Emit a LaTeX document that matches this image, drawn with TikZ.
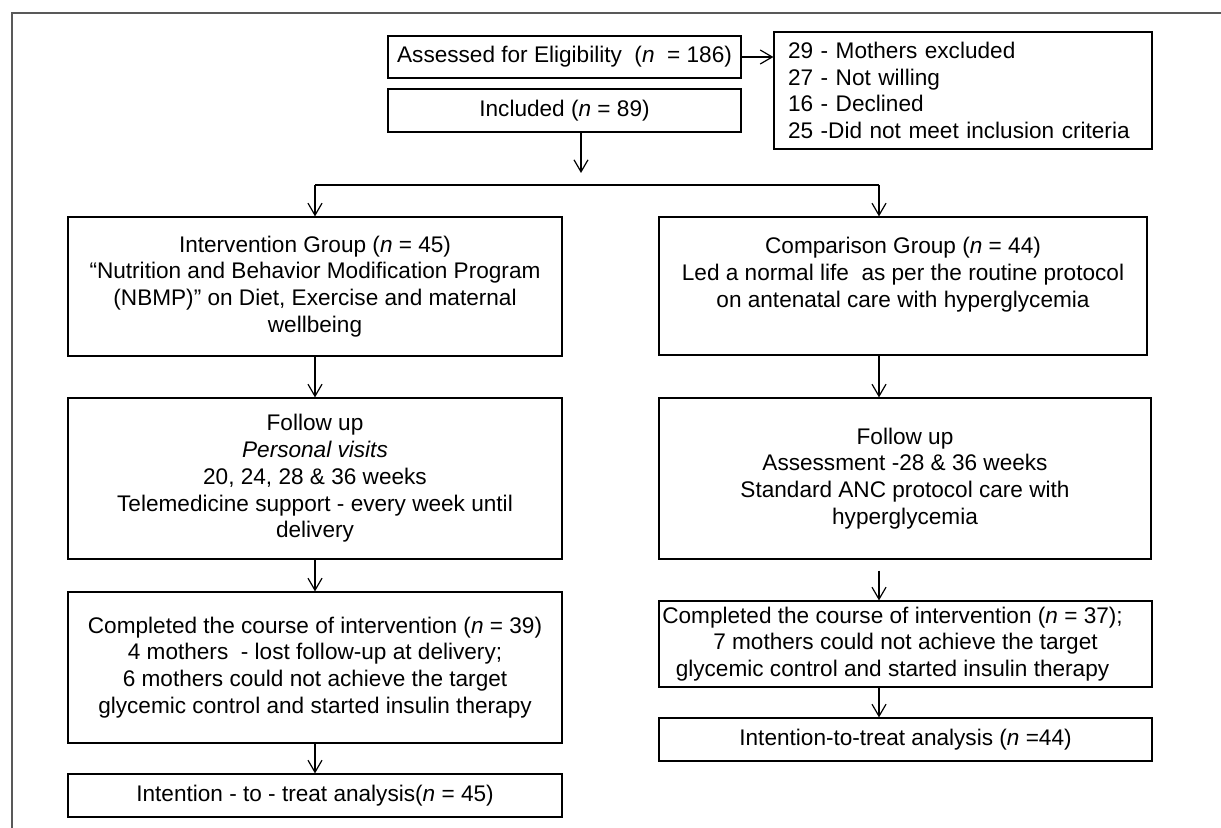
\documentclass[tikz,border=0pt]{standalone}
\usepackage{fontspec}
\setmainfont{Liberation Sans}
\usetikzlibrary{
    positioning,   % Relative positioning
    arrows.meta    % Modern arrow tips
}

\tikzset{
    box/.style={draw, line width=0.6pt, align=center, inner sep=0pt,
        font=\fontsize{11.3}{13.4}\selectfont},
    arr/.style={line width=0.6pt, -{Straight Barb[length=6pt,width=7pt]}},
    frame/.style={draw=black!65, line width=1pt}
}

\begin{document}
\begin{tikzpicture}[x=0.5pt, y=-0.5pt]
    \useasboundingbox (0,0) rectangle (1221,828);
    \draw[frame] (1221,13) -- (12,13) -- (12,828);

    % Enrolment
    \node[box, minimum width=176.5pt, minimum height=21pt] (assess) at (564.5,57)
        {Assessed for Eligibility\ \ (\textit{n}\ \ = 186)};
    \node[box, minimum width=176.5pt, minimum height=21.5pt] (incl) at (564.5,110.5)
        {Included (\textit{n} = 89)};
    \node[box, align=left, inner xsep=7pt, text width=175pt, minimum height=58.5pt] (excl) at (963,90.5)
        {29 - Mothers excluded\\27 - Not willing\\16 - Declined\\25 -Did not meet inclusion criteria};

    % Intervention arm
    \node[box, minimum width=247pt, minimum height=69.5pt] (interv) at (315,286.5)
        {Intervention Group (\textit{n} = 45)\\“Nutrition and Behavior Modification Program\\(NBMP)” on Diet, Exercise and maternal\\wellbeing};
    \node[box, minimum width=247pt, minimum height=80.5pt] (fuL) at (315,478.5)
        {Follow up\\\textit{Personal visits}\\20, 24, 28 \& 36 weeks\\Telemedicine support - every week until\\delivery};
    \node[box, minimum width=247pt, minimum height=75.5pt] (doneL) at (315,667.5)
        {Completed the course of intervention (\textit{n} = 39)\\4 mothers\ \ - lost follow-up at delivery;\\6 mothers could not achieve the target\\glycemic control and started insulin therapy};
    \node[box, minimum width=247pt, minimum height=21.5pt] (ittL) at (315,795.5)
        {Intention - to - treat analysis(\textit{n} = 45)};

    % Comparison arm
    \node[box, minimum width=244pt, minimum height=69pt] (comp) at (903,286)
        {Comparison Group (\textit{n} = 44)\\Led a normal life\ \ as per the routine protocol\\on antenatal care with hyperglycemia\\\mbox{}};
    \node[box, minimum width=246pt, minimum height=80.5pt] (fuR) at (905,478.5)
        {Follow up\\Assessment -28 \& 36 weeks\\Standard ANC protocol care with\\hyperglycemia};
    \node[box, minimum width=246.5pt, minimum height=43pt] (doneR) at (905.5,644)
        {Completed the course of intervention (\textit{n} = 37);\hspace*{13pt}\\7 mothers could not achieve the target\hspace*{13pt}\\glycemic control and started insulin therapy\hspace*{13pt}};
    \node[box, minimum width=246.5pt, minimum height=21.5pt] (ittR) at (905.5,739.5)
        {Intention-to-treat analysis (\textit{n} =44)};

    % Connectors
    \coordinate (split) at (581,173);
    \coordinate (brL) at (315,185);
    \coordinate (brR) at (879,185);
    \path (brR |- fuR.south) ++(0,11) coordinate (gapR);

    \draw[arr] (assess.east) -- (assess.east -| excl.west);
    \draw[arr] (split |- incl.south) -- (split);
    \draw[line width=0.6pt] (brL) -- (brR);
    \draw[arr] (brL) -- (brL |- interv.north);
    \draw[arr] (brR) -- (brR |- comp.north);
    \draw[arr] (interv.south) -- (fuL.north);
    \draw[arr] (fuL.south) -- (doneL.north);
    \draw[arr] (doneL.south) -- (ittL.north);
    \draw[arr] (brR |- comp.south) -- (brR |- fuR.north);
    \draw[arr] (gapR) -- (gapR |- doneR.north);
    \draw[arr] (brR |- doneR.south) -- (brR |- ittR.north);
\end{tikzpicture}
\end{document}
